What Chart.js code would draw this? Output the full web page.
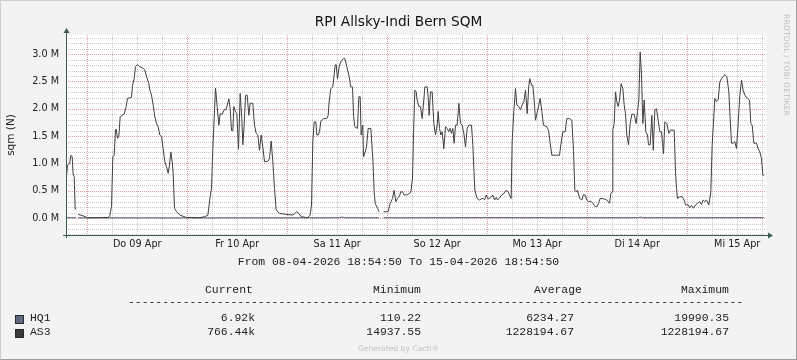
<!DOCTYPE html>
<html>
<head>
<meta charset="utf-8">
<script src="https://cdn.jsdelivr.net/npm/chart.js@4.4.0/dist/chart.umd.min.js"></script>
<style>
html, body { margin: 0; padding: 0; background: #f3f3f3; }
#wrap { position: relative; width: 797px; height: 360px; background: #f3f3f3; overflow: hidden; }
#c { position: absolute; left: 0; top: 0; }
#frame { position: absolute; left: 0; top: 0; width: 797px; height: 360px; box-sizing: border-box;
  border-top: 1px solid #cfcfcf; border-left: 1px solid #cfcfcf;
  border-right: 1px solid #9e9e9e; border-bottom: 1px solid #9e9e9e; pointer-events: none; }
.t { position: absolute; white-space: pre; font-family: "Liberation Mono", monospace; font-size: 11.4px; line-height: 13px; color: #222; }
.r { text-align: right; width: 120px; }
.sw { position: absolute; width: 7px; height: 7px; border: 1px solid #2a2a2a; }
#title { position: absolute; left: 0; width: 797px; top: 13px; text-align: center; font-family: "DejaVu Sans", sans-serif; font-size: 13.7px; color: #111; }
#wm { position: absolute; left: 782px; top: 14px; font-family: "DejaVu Sans", sans-serif; font-size: 7.6px; color: #bdbdbd;
  writing-mode: vertical-rl; letter-spacing: 0.2px; }
#gen { position: absolute; left: 0; width: 797px; top: 344px; text-align: center; font-family: "DejaVu Sans", sans-serif; font-size: 7.6px; color: #c2c2c2; }
</style>
</head>
<body>
<div id="wrap">
  <canvas id="c" width="797" height="360"></canvas>
  <div id="title">RPI Allsky-Indi Bern SQM</div>
  <div id="wm">RRDTOOL / TOBI OETIKER</div>
  <div class="t" style="left:0;width:797px;text-align:center;top:256px">From 08-04-2026 18:54:50 To 15-04-2026 18:54:50</div>
  <div class="t" style="left:205px;top:284px">Current</div>
  <div class="t" style="left:373px;top:284px">Minimum</div>
  <div class="t" style="left:534px;top:284px">Average</div>
  <div class="t" style="left:681px;top:284px">Maximum</div>
  <div class="t" style="left:128px;top:296px">------------------------------------------------------------------------------------------</div>
  <div class="sw" style="left:15px;top:315px;background:#5f6b80"></div>
  <div class="t" style="left:30px;top:312px">HQ1</div>
  <div class="t r" style="left:135px;top:312px">6.92k</div>
  <div class="t r" style="left:301px;top:312px">110.22</div>
  <div class="t r" style="left:454px;top:312px">6234.27</div>
  <div class="t r" style="left:609px;top:312px">19990.35</div>
  <div class="sw" style="left:15px;top:329px;background:#3a3a3a"></div>
  <div class="t" style="left:30px;top:326px">AS3</div>
  <div class="t r" style="left:135px;top:326px">766.44k</div>
  <div class="t r" style="left:301px;top:326px">14937.55</div>
  <div class="t r" style="left:454px;top:326px">1228194.67</div>
  <div class="t r" style="left:609px;top:326px">1228194.67</div>
  <div id="gen">Generated by Cacti®</div>
  <div id="frame"></div>
</div>
<script>
// hours since 08-04-2026 18:54:50, values in millions
var as3Hours = [
  0.12,0.36,0.84,1.16,1.48,1.72,1.96,2.2,2.44,2.68,
  2.92,4.12,5.16,10.12,10.52,10.92,11.24,11.56,11.88,12.04,
  12.36,12.68,13.0,13.48,13.96,14.44,14.76,15.32,15.72,15.96,
  16.36,16.68,17.16,17.72,18.52,18.92,19.32,19.88,20.12,20.52,
  20.92,21.32,21.72,22.12,22.52,22.92,23.32,23.72,24.12,24.52,
  24.84,25.16,25.48,25.72,26.04,26.52,27.32,28.84,32.04,33.24,
  34.04,34.6,34.92,35.24,35.56,35.88,36.28,36.68,37.0,37.48,
  37.96,38.44,39.08,39.4,39.72,40.04,40.28,40.68,41.0,41.4,
  41.8,42.2,42.44,42.76,43.08,43.48,43.88,44.2,44.84,45.24,
  45.64,46.04,46.44,46.84,47.24,47.64,48.44,48.84,49.24,49.64,
  50.04,50.44,51.24,52.84,54.44,55.4,55.88,56.44,57.96,58.6,
  58.92,59.24,59.56,59.96,60.2,60.52,60.84,61.16,61.8,62.6,
  62.92,63.16,63.56,64.04,64.36,64.6,64.84,65.16,65.56,65.96,
  66.6,66.92,67.4,67.96,68.36,68.76,69.0,69.32,69.96,70.28,
  70.6,70.84,71.24,71.4,71.8,72.12,72.52,73.16,73.64,73.96,
  74.2,74.76,75.16,75.7,76.2,77.32,77.8,78.36,78.76,79.16,
  79.56,79.96,80.36,80.76,81.16,81.96,82.76,83.16,83.4,83.72,
  84.04,84.28,84.68,85.08,85.48,85.88,86.12,86.68,86.92,87.16,
  87.48,87.88,88.28,88.68,89.08,89.32,89.64,89.96,90.28,90.68,
  91.08,91.48,91.88,92.2,92.52,92.84,93.16,93.48,93.88,94.28,
  94.68,95.08,95.48,95.88,96.28,96.68,97.32,97.64,97.88,98.12,
  98.68,99.24,99.88,100.52,100.84,101.32,101.88,102.44,102.84,103.24,
  103.56,104.04,104.52,105.08,105.64,106.12,106.44,106.84,107.08,107.48,
  107.88,108.2,108.68,109.08,109.48,109.88,110.28,110.68,111.08,111.32,
  111.72,112.04,112.36,112.68,113.4,113.8,114.2,114.6,115.4,115.8,
  116.2,116.6,118.44,118.76,119.24,119.8,120.2,120.84,121.4,121.8,
  122.12,122.44,122.76,123.24,123.8,124.2,124.6,125.0,125.4,125.96,
  126.44,127.0,127.4,127.8,128.2,129.16,129.8,130.44,130.76,131.08,
  131.24,131.56,131.88,132.2,132.52,132.84,133.24,133.64,133.96,134.28,
  134.6,135.0,135.4,135.8,136.36,136.84,137.16,137.48,137.8,138.12,
  138.44,138.76,139.16,139.56,139.8,140.2,140.6,140.95,141.32,141.72,
  142.12,142.52,142.92,143.16,143.4,143.72,144.2,144.68,145.08,145.96,
  146.28,146.52,146.76,147.32,147.88,148.36,148.68,149.32,149.72,150.12,
  150.6,151.08,151.56,152.12,152.52,152.92,153.32,153.72,154.28,154.76,
  155.08,155.4,155.72,156.12,156.52,156.92,157.32,157.72,158.12,158.6,
  159.08,159.4,159.72,160.12,160.52,160.92,161.32,161.72,162.12,162.52,
  162.92,163.56,164.04,164.36,164.68,165.08,165.72,166.12,166.52,166.92,167.24,167.48
];
var as3Values = [
  0.76,0.97,1.00,1.15,1.12,0.79,0.76,0.165,0.165,null,
  0.067,0.04,0.006,0.01,0.05,0.21,1.12,1.15,1.61,1.63,
  1.46,1.49,1.85,1.88,1.90,2.04,2.19,2.20,2.21,2.43,
  2.55,2.77,2.81,2.77,2.74,2.71,2.59,2.46,2.34,2.25,
  2.07,1.85,1.73,1.67,1.52,1.49,1.27,1.03,0.94,0.82,
  0.97,1.21,1.03,0.82,0.18,0.12,0.055,0.012,0.006,0.024,
  0.05,0.39,0.54,1.27,1.82,2.38,2.04,1.70,1.91,1.90,
  1.98,1.99,2.18,2.00,1.60,1.60,2.04,1.95,1.91,1.26,
  2.28,1.82,1.34,1.70,2.24,2.25,1.88,2.10,2.10,1.70,
  1.55,1.52,1.24,1.52,1.30,1.03,1.04,1.09,1.41,1.03,
  0.54,0.15,0.085,0.067,0.055,0.116,0.085,0.024,0.006,0.055,
  0.24,1.40,1.76,1.76,1.52,1.52,1.58,1.77,1.82,1.82,
  1.88,2.13,2.37,2.40,2.63,2.80,2.81,2.55,2.77,2.86,
  2.92,2.92,2.77,2.59,2.40,2.40,1.88,1.67,1.64,2.22,
  2.22,1.52,1.70,1.12,1.21,1.30,1.64,1.64,1.09,0.48,
  0.27,0.18,0.116,null,0.116,0.116,0.27,0.36,0.51,0.30,
  0.36,0.39,0.48,0.48,0.42,0.43,0.47,0.73,1.52,2.34,
  2.31,2.16,2.04,2.04,1.82,2.16,2.40,2.40,2.22,1.88,
  2.31,2.31,1.73,1.52,1.70,1.95,1.64,1.52,1.58,1.27,
  1.67,1.64,1.58,1.64,1.55,1.64,1.37,1.70,1.70,2.10,
  1.73,1.70,1.55,1.30,1.64,1.70,1.70,1.34,0.91,0.51,
  0.36,0.33,0.36,0.34,0.42,0.35,0.37,0.42,0.33,0.38,
  0.33,0.37,0.42,0.45,0.51,0.48,0.42,0.36,1.40,1.95,
  2.37,2.07,2.04,1.98,2.07,2.13,2.34,1.91,2.43,2.55,
  2.43,2.43,2.16,1.79,2.04,2.19,1.95,1.70,1.67,1.61,
  1.37,1.15,1.15,1.34,1.58,1.58,1.82,1.82,1.79,1.24,
  0.51,0.48,0.51,0.36,0.33,0.43,0.42,0.33,0.30,0.31,
  0.27,0.21,0.21,0.27,0.36,0.35,0.33,0.27,0.45,0.48,
  1.61,1.73,2.31,2.13,2.04,2.16,2.46,2.37,2.07,1.91,
  1.52,1.34,1.73,1.90,1.90,1.73,1.95,2.16,3.04,2.62,
  1.73,2.16,1.58,1.52,1.34,1.34,1.88,1.24,1.98,2.00,
  1.79,1.58,1.58,1.37,1.18,1.76,1.73,1.55,1.61,1.61,
  0.85,0.54,0.36,0.39,0.39,0.33,0.24,0.24,0.19,0.23,
  0.18,0.24,0.27,0.30,0.25,0.33,0.30,0.33,0.24,0.48,
  1.34,1.76,2.19,2.13,2.16,2.49,2.55,2.59,2.62,2.59,
  2.31,1.82,1.37,1.37,1.40,1.27,1.73,2.25,2.52,2.34,
  2.25,2.19,2.16,1.73,1.70,1.37,1.37,1.27,1.21,1.09,0.79,0.766
];
var hq1Hours = [0.12, 2.44, 2.68, 2.92, 30, 60, 65.6, 66.2, 66.8, 75.16, 75.7, 76.2, 100, 125, 137.4, 137.9, 138.4, 150, 167.48];
var hq1Values = [0.006, 0.005, null, 0.004, 0.003, 0.005, 0.006, 0.02, 0.006, 0.005, null, 0.005, 0.007, 0.006, 0.006, 0.018, 0.006, 0.006, 0.0069];

var dayLabels = ['Do 09 Apr', 'Fr 10 Apr', 'Sa 11 Apr', 'So 12 Apr', 'Mo 13 Apr', 'Di 14 Apr', 'Mi 15 Apr'];
var yTickLabels = ['0.0 M', '0.5 M', '1.0 M', '1.5 M', '2.0 M', '2.5 M', '3.0 M'];
var firstMidnight = 5 + 5 / 60 + 10 / 3600; // 09 Apr 00:00 in hours after start

function toPoints(xs, ys) {
  return xs.map(function (x, i) { return { x: x, y: ys[i] }; });
}

var majorGrid = '#e39a9a', minorGrid = '#cacaca', axisColor = '#3b5a50';

var plotBack = {
  id: 'plotBack',
  beforeDraw: function (chart) {
    var a = chart.chartArea, ctx = chart.ctx;
    ctx.save();
    ctx.fillStyle = '#ffffff';
    ctx.fillRect(a.left, a.top, a.right - a.left, a.bottom - a.top);
    ctx.restore();
  }
};

// dotted rrdtool style grid: minor first, major on top
var rrdGrid = {
  id: 'rrdGrid',
  beforeDatasetsDraw: function (chart) {
    var a = chart.chartArea, ctx = chart.ctx;
    var xs = chart.scales.x, ys = chart.scales.y;
    ctx.save();
    ctx.lineWidth = 1;
    ctx.setLineDash([1, 1]);
    [false, true].forEach(function (major) {
      ctx.strokeStyle = major ? majorGrid : minorGrid;
      for (var k = -3; k <= 33; k++) {
        if ((k % 5 === 0) !== major) continue;
        var y = Math.round(ys.getPixelForValue(k / 10)) + 0.5;
        ctx.beginPath(); ctx.moveTo(a.left, y); ctx.lineTo(a.right, y); ctx.stroke();
      }
      for (var j = 0; firstMidnight + 6 * j <= 168; j++) {
        if ((j % 4 === 0) !== major) continue;
        var x = Math.round(xs.getPixelForValue(firstMidnight + 6 * j)) + 0.5;
        ctx.beginPath(); ctx.moveTo(x, a.top); ctx.lineTo(x, a.bottom); ctx.stroke();
      }
    });
    ctx.restore();
  }
};

var rrdAxes = {
  id: 'rrdAxes',
  afterDraw: function (chart) {
    var a = chart.chartArea, ctx = chart.ctx;
    var bx = a.left + 0.5, by = a.bottom + 0.5;
    ctx.save();
    ctx.strokeStyle = axisColor;
    ctx.fillStyle = axisColor;
    ctx.lineWidth = 1;
    ctx.beginPath();
    ctx.moveTo(a.left - 3, by); ctx.lineTo(a.right + 3, by);
    ctx.moveTo(bx, a.bottom + 3); ctx.lineTo(bx, a.top - 3);
    ctx.stroke();
    ctx.beginPath();
    ctx.moveTo(a.right + 2, by - 3); ctx.lineTo(a.right + 7, by); ctx.lineTo(a.right + 2, by + 3);
    ctx.closePath(); ctx.fill();
    ctx.beginPath();
    ctx.moveTo(bx - 3, a.top - 2); ctx.lineTo(bx, a.top - 7); ctx.lineTo(bx + 3, a.top - 2);
    ctx.closePath(); ctx.fill();
    ctx.restore();
  }
};

Chart.defaults.font.family = 'DejaVu Sans';

var ctx = document.getElementById('c').getContext('2d');
var myChart = new Chart(ctx, {
  type: 'line',
  data: {
    datasets: [{
      label: 'AS3',
      borderColor: '#404040',
      borderWidth: 1,
      pointRadius: 0,
      tension: 0,
      spanGaps: false,
      data: toPoints(as3Hours, as3Values)
    }, {
      label: 'HQ1',
      borderColor: '#4a5470',
      borderWidth: 1,
      pointRadius: 0,
      tension: 0,
      spanGaps: false,
      data: toPoints(hq1Hours, hq1Values)
    }]
  },
  options: {
    responsive: false,
    animation: false,
    layout: { padding: { top: 35, right: 31, bottom: 100, left: 0 } },
    plugins: { legend: { display: false }, tooltip: { enabled: false } },
    scales: {
      x: {
        type: 'linear',
        min: 0,
        max: 168,
        afterBuildTicks: function (s) {
          var t = [];
          for (var k = 0; firstMidnight + 6 * k <= 168; k++) t.push({ value: firstMidnight + 6 * k });
          s.ticks = t;
        },
        afterFit: function (s) { s.height = 25; },
        grid: { display: false, drawTicks: false },
        border: { display: false },
        ticks: {
          autoSkip: false,
          maxRotation: 0,
          padding: 4,
          color: '#222',
          font: { size: 9.7 },
          callback: function (v, i) { return i % 4 === 2 ? dayLabels[(i - 2) / 4] : ''; }
        }
      },
      y: {
        min: -0.31,
        max: 3.35,
        afterBuildTicks: function (s) {
          var t = [];
          for (var k = -3; k <= 33; k++) t.push({ value: k / 10 });
          s.ticks = t;
        },
        afterFit: function (s) { s.width = 66; },
        grid: { display: false, drawTicks: false },
        border: { display: false },
        title: { display: true, text: 'sqm (N)', color: '#222', font: { size: 10.5 }, padding: { top: 5, bottom: 0 } },
        ticks: {
          autoSkip: false,
          padding: 7,
          color: '#222',
          font: { size: 9.7 },
          callback: function (v) {
            var k = Math.round(v * 10);
            return (k >= 0 && k % 5 === 0) ? yTickLabels[k / 5] : '';
          }
        }
      }
    }
  },
  plugins: [plotBack, rrdGrid, rrdAxes]
});
</script>
</body>
</html>
